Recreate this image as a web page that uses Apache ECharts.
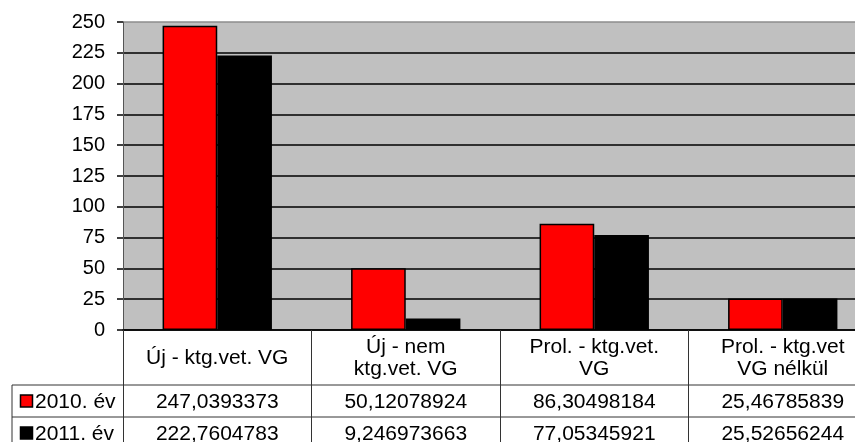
<!DOCTYPE html>
<html><head><meta charset="utf-8">
<script src="https://cdn.jsdelivr.net/npm/echarts@6/dist/echarts.min.js"></script>
<style>html,body{margin:0;padding:0;background:#fff}#c{width:855px;height:442px}</style>
</head><body><div id="c"></div>
<script>
var categories = ['Új - ktg.vet. VG', 'Új - nem\nktg.vet. VG', 'Prol. - ktg.vet.\nVG', 'Prol. - ktg.vet\nVG nélkül'];
var seriesNames = ['2010. év', '2011. év'];
var values2010 = [247.0393373, 50.12078924, 86.30498184, 25.46785839];
var values2011 = [222.7604783, 9.246973663, 77.05345921, 25.52656244];
var valueText2010 = ['247,0393373', '50,12078924', '86,30498184', '25,46785839'];
var valueText2011 = ['222,7604783', '9,246973663', '77,05345921', '25,52656244'];
var yTicks = [0, 25, 50, 75, 100, 125, 150, 175, 200, 225, 250];

var FONT = 'Liberation Sans, Arial, sans-serif';
var chart = echarts.init(document.getElementById('c'), null, {renderer: 'canvas'});
var gridColors = yTicks.map(function (t, i) { return i === yTicks.length - 1 ? '#8c8c8c' : '#000'; });
chart.setOption({
  animation: false,
  grid: {left: 123, top: 22, width: 754, height: 308, show: true, backgroundColor: '#c0c0c0', borderWidth: 0,
         outerBoundsMode: 'none', containLabel: false},
  xAxis: {
    type: 'category', data: categories,
    axisLabel: {show: false},
    axisTick: {show: true, length: 112, lineStyle: {color: '#333', width: 1}},
    axisLine: {lineStyle: {color: '#000', width: 1.5}}
  },
  yAxis: {
    type: 'value', min: 0, max: 250, interval: 25,
    axisLine: {show: true, lineStyle: {color: '#555', width: 1}},
    axisTick: {show: true, length: 6, lineStyle: {color: '#000', width: 1.5}},
    axisLabel: {color: '#000', fontSize: 20, fontFamily: FONT, margin: 18},
    splitLine: {lineStyle: {color: gridColors, width: 1.5}}
  },
  series: [
    {name: seriesNames[0], type: 'bar', data: values2010, barGap: '0%', barCategoryGap: '42%',
     itemStyle: {color: '#ff0000', borderColor: '#000', borderWidth: 1.5}},
    {name: seriesNames[1], type: 'bar', data: values2011,
     itemStyle: {color: '#000', borderColor: '#000', borderWidth: 1.5}}
  ]
});

var y0 = chart.convertToPixel({yAxisIndex: 0}, 0);
var c0 = chart.convertToPixel({xAxisIndex: 0}, 0);
var c1 = chart.convertToPixel({xAxisIndex: 0}, 1);
var band = c1 - c0;
var rightEdge = chart.convertToPixel({xAxisIndex: 0}, categories.length - 1) + band / 2;
var row1Top = y0 + 55, row2Top = y0 + 87, rowBottom = y0 + 120;
var tableLeft = 12;
var SX = 1.05;
var elems = [];
function hline(y, x1, x2) {
  elems.push({type: 'line', shape: {x1: x1, y1: y, x2: x2, y2: y}, style: {stroke: '#333', lineWidth: 1}, z: 10});
}
hline(row1Top, tableLeft, rightEdge);
hline(row2Top, tableLeft, rightEdge);
hline(rowBottom, tableLeft, rightEdge);
elems.push({type: 'line', shape: {x1: tableLeft, y1: row1Top, x2: tableLeft, y2: rowBottom}, style: {stroke: '#333', lineWidth: 1}, z: 10});
function txt(x, y, s, align, lh) {
  elems.push({type: 'text', x: x, y: y, scaleX: SX,
    style: {text: s, fill: '#000', font: '20px ' + FONT, align: align, verticalAlign: 'middle', lineHeight: lh || 22}, z: 11});
}
categories.forEach(function (cat, i) {
  var cx = chart.convertToPixel({xAxisIndex: 0}, i);
  txt(cx, (y0 + row1Top) / 2 + 1, cat, 'center', 22);
  txt(cx, (row1Top + row2Top) / 2 + 1, valueText2010[i], 'center');
  txt(cx, (row2Top + rowBottom) / 2 + 1, valueText2011[i], 'center');
});
var keyColors = ['#ff0000', '#000'];
[row1Top, row2Top].forEach(function (top, i) {
  var mid = top + 16;
  elems.push({type: 'rect', shape: {x: 20.5, y: mid - 6, width: 12, height: 12}, style: {fill: keyColors[i], stroke: '#000', lineWidth: 1.5}, z: 11});
  txt(35, mid + 1, seriesNames[i], 'left');
});
chart.setOption({graphic: {elements: elems}});
</script></body></html>
